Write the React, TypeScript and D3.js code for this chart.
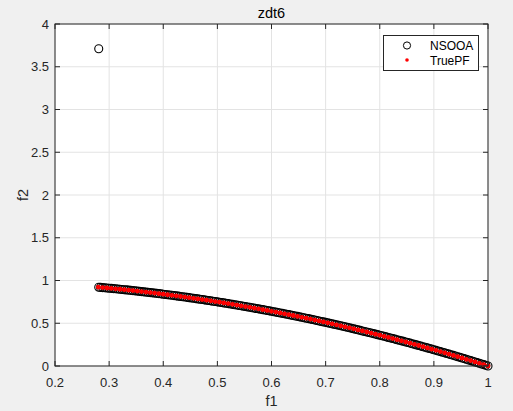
import React from "react";
import * as d3 from "d3";

const W = 513;
const H = 411;

const xTicks = [0.2, 0.3, 0.4, 0.5, 0.6, 0.7, 0.8, 0.9, 1];
const xTickLabels = ["0.2", "0.3", "0.4", "0.5", "0.6", "0.7", "0.8", "0.9", "1"];
const yTicks = [0, 0.5, 1, 1.5, 2, 2.5, 3, 3.5, 4];
const yTickLabels = ["0", "0.5", "1", "1.5", "2", "2.5", "3", "3.5", "4"];

const trueF1 = [
  0.280, 0.288, 0.296, 0.304, 0.312, 0.320, 0.328, 0.336, 0.344, 0.352,
  0.360, 0.368, 0.376, 0.384, 0.392, 0.400, 0.408, 0.416, 0.424, 0.432,
  0.440, 0.448, 0.456, 0.464, 0.472, 0.480, 0.488, 0.496, 0.504, 0.512,
  0.520, 0.528, 0.536, 0.544, 0.552, 0.560, 0.568, 0.576, 0.584, 0.592,
  0.600, 0.608, 0.616, 0.624, 0.632, 0.640, 0.648, 0.656, 0.664, 0.672,
  0.680, 0.688, 0.696, 0.704, 0.712, 0.720, 0.728, 0.736, 0.744, 0.752,
  0.760, 0.768, 0.776, 0.784, 0.792, 0.800, 0.808, 0.816, 0.824, 0.832,
  0.840, 0.848, 0.856, 0.864, 0.872, 0.880, 0.888, 0.896, 0.904, 0.912,
  0.920, 0.928, 0.936, 0.944, 0.952, 0.960, 0.968, 0.976, 0.984, 0.992,
  1.000,
];
const trueF2 = [
  0.9216, 0.9171, 0.9124, 0.9076, 0.9027, 0.8976, 0.8924, 0.8871, 0.8817, 0.8761,
  0.8704, 0.8646, 0.8586, 0.8525, 0.8463, 0.8400, 0.8335, 0.8269, 0.8202, 0.8134,
  0.8064, 0.7993, 0.7921, 0.7847, 0.7772, 0.7696, 0.7619, 0.7540, 0.7460, 0.7379,
  0.7296, 0.7212, 0.7127, 0.7041, 0.6953, 0.6864, 0.6774, 0.6682, 0.6589, 0.6495,
  0.6400, 0.6303, 0.6205, 0.6106, 0.6006, 0.5904, 0.5801, 0.5697, 0.5591, 0.5484,
  0.5376, 0.5267, 0.5156, 0.5044, 0.4931, 0.4816, 0.4700, 0.4583, 0.4465, 0.4345,
  0.4224, 0.4102, 0.3978, 0.3853, 0.3727, 0.3600, 0.3471, 0.3341, 0.3210, 0.3078,
  0.2944, 0.2809, 0.2673, 0.2535, 0.2396, 0.2256, 0.2115, 0.1972, 0.1828, 0.1683,
  0.1536, 0.1388, 0.1239, 0.1089, 0.0937, 0.0784, 0.0630, 0.0474, 0.0317, 0.0159,
  0.0000,
];

// NSOOA solutions (first block: offsets between PF samples; second block: on PF samples; last: outlier)
const nsooaF1 = [
  0.2808, 0.284, 0.292, 0.300, 0.308, 0.316, 0.324, 0.332, 0.340, 0.348, 0.356,
  0.364, 0.372, 0.380, 0.388, 0.396, 0.404, 0.412, 0.420, 0.428, 0.436,
  0.444, 0.452, 0.460, 0.468, 0.476, 0.484, 0.492, 0.500, 0.508, 0.516,
  0.524, 0.532, 0.540, 0.548, 0.556, 0.564, 0.572, 0.580, 0.588, 0.596,
  0.604, 0.612, 0.620, 0.628, 0.636, 0.644, 0.652, 0.660, 0.668, 0.676,
  0.684, 0.692, 0.700, 0.708, 0.716, 0.724, 0.732, 0.740, 0.748, 0.756,
  0.764, 0.772, 0.780, 0.788, 0.796, 0.804, 0.812, 0.820, 0.828, 0.836,
  0.844, 0.852, 0.860, 0.868, 0.876, 0.884, 0.892, 0.900, 0.908, 0.916,
  0.924, 0.932, 0.940, 0.948, 0.956, 0.964, 0.972, 0.980, 0.988, 0.996,
  0.288, 0.296, 0.304, 0.312, 0.320, 0.328, 0.336, 0.344, 0.352,
  0.360, 0.368, 0.376, 0.384, 0.392, 0.400, 0.408, 0.416, 0.424, 0.432,
  0.440, 0.448, 0.456, 0.464, 0.472, 0.480, 0.488, 0.496, 0.504, 0.512,
  0.520, 0.528, 0.536, 0.544, 0.552, 0.560, 0.568, 0.576, 0.584, 0.592,
  0.600, 0.608, 0.616, 0.624, 0.632, 0.640, 0.648, 0.656, 0.664, 0.672,
  0.680, 0.688, 0.696, 0.704, 0.712, 0.720, 0.728, 0.736, 0.744, 0.752,
  0.760, 0.768, 0.776, 0.784, 0.792, 0.800, 0.808, 0.816, 0.824, 0.832,
  0.840, 0.848, 0.856, 0.864, 0.872, 0.880, 0.888, 0.896, 0.904, 0.912,
  0.920, 0.928, 0.936, 0.944, 0.952, 0.960, 0.968, 0.976, 0.984, 0.992,
  1.000, 0.2808,
];
const nsooaF2 = [
  0.9212, 0.9193, 0.9147, 0.9100, 0.9051, 0.9001, 0.8950, 0.8898, 0.8844, 0.8789, 0.8733,
  0.8675, 0.8616, 0.8556, 0.8495, 0.8432, 0.8368, 0.8303, 0.8236, 0.8168, 0.8099,
  0.8029, 0.7957, 0.7884, 0.7810, 0.7734, 0.7657, 0.7579, 0.7500, 0.7419, 0.7337,
  0.7254, 0.7170, 0.7084, 0.6997, 0.6909, 0.6819, 0.6728, 0.6636, 0.6543, 0.6448,
  0.6352, 0.6255, 0.6156, 0.6056, 0.5955, 0.5853, 0.5749, 0.5644, 0.5538, 0.5430,
  0.5321, 0.5211, 0.5100, 0.4987, 0.4873, 0.4758, 0.4642, 0.4524, 0.4405, 0.4285,
  0.4163, 0.4040, 0.3916, 0.3791, 0.3664, 0.3536, 0.3407, 0.3276, 0.3144, 0.3011,
  0.2877, 0.2741, 0.2604, 0.2466, 0.2326, 0.2185, 0.2043, 0.1900, 0.1755, 0.1609,
  0.1462, 0.1314, 0.1164, 0.1013, 0.0861, 0.0707, 0.0552, 0.0396, 0.0239, 0.0080,
  0.9171, 0.9124, 0.9076, 0.9027, 0.8976, 0.8924, 0.8871, 0.8817, 0.8761,
  0.8704, 0.8646, 0.8586, 0.8525, 0.8463, 0.8400, 0.8335, 0.8269, 0.8202, 0.8134,
  0.8064, 0.7993, 0.7921, 0.7847, 0.7772, 0.7696, 0.7619, 0.7540, 0.7460, 0.7379,
  0.7296, 0.7212, 0.7127, 0.7041, 0.6953, 0.6864, 0.6774, 0.6682, 0.6589, 0.6495,
  0.6400, 0.6303, 0.6205, 0.6106, 0.6006, 0.5904, 0.5801, 0.5697, 0.5591, 0.5484,
  0.5376, 0.5267, 0.5156, 0.5044, 0.4931, 0.4816, 0.4700, 0.4583, 0.4465, 0.4345,
  0.4224, 0.4102, 0.3978, 0.3853, 0.3727, 0.3600, 0.3471, 0.3341, 0.3210, 0.3078,
  0.2944, 0.2809, 0.2673, 0.2535, 0.2396, 0.2256, 0.2115, 0.1972, 0.1828, 0.1683,
  0.1536, 0.1388, 0.1239, 0.1089, 0.0937, 0.0784, 0.0630, 0.0474, 0.0317, 0.0159,
  0.0000, 3.7100,
];

const seriesNames = ["NSOOA", "TruePF"];

const FONT = "Arial, 'Liberation Sans', Helvetica, sans-serif";
const AX = "#262626";
const GRID = "#e3e3e3";

export default function App() {
  const left = 55, right = 488, top = 24, bottom = 366;
  const x = d3.scaleLinear().domain([0.2, 1]).range([left, right]);
  const y = d3.scaleLinear().domain([0, 4]).range([bottom, top]);
  const tl = 5;

  return (
    <svg
      width={W}
      height={H}
      style={{ position: "fixed", left: 0, top: 0, background: "#f0f0f0" }}
      fontFamily={FONT}
    >
      <rect x={0} y={0} width={W} height={H} fill="#f0f0f0" />
      <rect x={left} y={top} width={right - left} height={bottom - top} fill="#ffffff" />
      {xTicks.map((t, i) => (
        <line key={"gx" + i} x1={x(t)} x2={x(t)} y1={top} y2={bottom} stroke={GRID} strokeWidth={1} />
      ))}
      {yTicks.map((t, i) => (
        <line key={"gy" + i} x1={left} x2={right} y1={y(t)} y2={y(t)} stroke={GRID} strokeWidth={1} />
      ))}
      {nsooaF1.map((v, i) => (
        <circle key={"n" + i} cx={x(v)} cy={y(nsooaF2[i])} r={4} fill="none" stroke="#000" strokeWidth={1.1} />
      ))}
      {trueF1.map((v, i) => (
        <circle key={"t" + i} cx={x(v)} cy={y(trueF2[i])} r={2.4} fill="#ff0000" />
      ))}
      <rect x={left} y={top} width={right - left} height={bottom - top} fill="none" stroke={AX} strokeWidth={1} />
      {xTicks.map((t, i) => (
        <g key={"xt" + i}>
          <line x1={x(t)} x2={x(t)} y1={bottom} y2={bottom - tl} stroke={AX} />
          <line x1={x(t)} x2={x(t)} y1={top} y2={top + tl} stroke={AX} />
          <text x={x(t)} y={386.5} textAnchor="middle" fontSize={13} fill={AX}>
            {xTickLabels[i]}
          </text>
        </g>
      ))}
      {yTicks.map((t, i) => (
        <g key={"yt" + i}>
          <line x1={left} x2={left + tl} y1={y(t)} y2={y(t)} stroke={AX} />
          <line x1={right} x2={right - tl} y1={y(t)} y2={y(t)} stroke={AX} />
          <text x={49} y={y(t) + 4.5} textAnchor="end" fontSize={13} fill={AX}>
            {yTickLabels[i]}
          </text>
        </g>
      ))}
      <text x={(left + right) / 2} y={18} textAnchor="middle" fontSize={14.5} fill="#000">zdt6</text>
      <text x={(left + right) / 2} y={406} textAnchor="middle" fontSize={14.5} fill={AX}>f1</text>
      <text transform={`translate(28,${(top + bottom) / 2}) rotate(-90)`} textAnchor="middle" fontSize={14.5} fill={AX}>f2</text>
      <rect x={383.5} y={35.5} width={95} height={35} fill="#fff" stroke={AX} strokeWidth={1} />
      <circle cx={407} cy={45.5} r={3.6} fill="none" stroke="#000" strokeWidth={1} />
      <text x={430} y={50} fontSize={12} fill="#000">{seriesNames[0]}</text>
      <circle cx={407} cy={60} r={1.8} fill="#ff0000" />
      <text x={430} y={64.5} fontSize={12} fill="#000">{seriesNames[1]}</text>
    </svg>
  );
}
